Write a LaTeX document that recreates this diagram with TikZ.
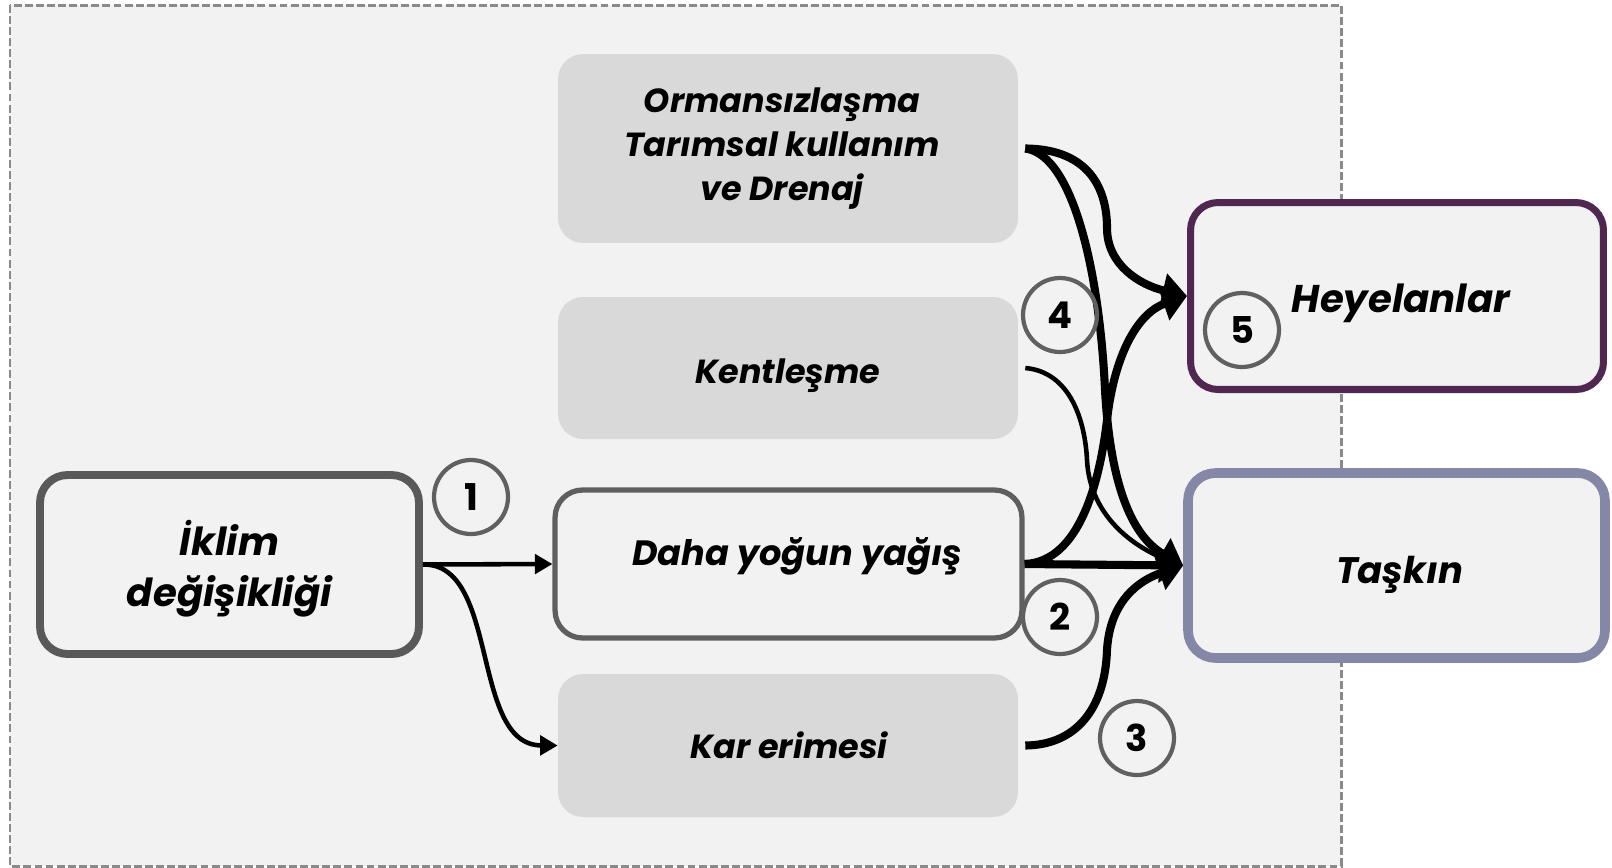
\documentclass[tikz,border=0pt]{standalone}
\usepackage{fontspec}
\setmainfont{Poppins}
\usetikzlibrary{arrows.meta}
\definecolor{bgc}{HTML}{F2F2F2}
\definecolor{gboxc}{HTML}{D9D9D9}
\definecolor{dashc}{HTML}{8A8A8A}
\definecolor{climc}{HTML}{595959}
\definecolor{dahac}{HTML}{5F5F5F}
\definecolor{heyc}{HTML}{4F2750}
\definecolor{tasc}{HTML}{8487A5}
\definecolor{numc}{HTML}{606060}
\tikzset{
  txt/.style 2 args={font=\fontsize{#1}{#2}\selectfont\bfseries\itshape, align=center, text=black, inner sep=0pt},
  gbox/.style={fill=gboxc, draw=none, rounded corners=0.5cm, minimum width=9.2cm},
  obox/.style={fill=bgc, rounded corners=0.55cm},
  num/.style={circle, draw=numc, line width=2.4pt, minimum size=1.48cm, inner sep=0pt,
    font=\fontsize{21}{25}\selectfont\bfseries},
  thin/.style={line width=2.6pt, -{Triangle[length=10pt,width=11pt]}},
  thick/.style={line width=4.6pt, -{Triangle[length=14pt,width=19pt]}},
}
\begin{document}
\begin{tikzpicture}[x=0.02cm,y=-0.02cm]
\useasboundingbox (0,0) rectangle (1612,867);
\draw[fill=bgc, draw=dashc, line width=1.7pt, dash pattern=on 4.5pt off 1.8pt] (10,5) rectangle (1341,866);

% boxes
\node[gbox, minimum height=3.78cm] (orman) at (788,148.5) {};
\node[gbox, minimum height=2.84cm] (kent) at (788,368) {};
\node[gbox, minimum height=2.86cm] (kar) at (788,745.5) {};
\node[obox, draw=dahac, line width=3pt, minimum width=9.34cm, minimum height=2.96cm] (daha) at (788.5,564) {};
\node[obox, draw=climc, line width=4.5pt, minimum width=7.58cm, minimum height=3.58cm] (clim) at (229.5,564.5) {};
\node[obox, draw=heyc, line width=4pt, minimum width=8.26cm, minimum height=3.74cm] (hey) at (1397,296) {};
\node[obox, draw=tasc, line width=5.5pt, minimum width=8.34cm, minimum height=3.7cm] (tas) at (1396.5,565.5) {};

% texts
\node[txt={19}{25}] (orman-t) at (782,148.5) {Ormansızlaşma\\Tarımsal kullanım\\ve Drenaj};
\node[txt={19}{23}] (kent-t) at (788,376) {Kentleşme};
\node[txt={19}{23}] (kar-t) at (789,745) {Kar erimesi};
\node[txt={20}{24}] (daha-t) at (797,556) {Daha yoğun yağış};
\node[txt={22}{29}] (clim-t) at (229.5,569) {İklim\\değişikliği};
\node[txt={22}{26}] (hey-t) at (1401,303) {Heyelanlar};
\node[txt={21}{25}] (tas-t) at (1399.5,575) {Taşkın};

% connectors from climate change
\draw[thin] (clim.east) -- (daha.west);
\draw[thin] (clim.east) .. controls (500,563) and (470,745) .. (kar.west);

% connectors to Heyelanlar
\draw[thick] ([xshift=0.14cm]orman.east) .. controls (1090,149) and (1107,190) .. (1107,228)
   .. controls (1107,265) and (1140,285) .. (hey.west);
\draw[thick] (daha.east) .. controls (1080,562) and (1100,480) .. (1107,420)
   .. controls (1115,350) and (1140,312) .. (hey.west);

% connectors to Taşkın
\draw[thick] ([xshift=0.14cm]orman.east) .. controls (1075,155) and (1100,280) .. (1105,390)
   .. controls (1110,480) and (1130,535) .. (tas.west);
\draw[thin] ([xshift=0.14cm]kent.east) .. controls (1070,372) and (1085,420) .. (1087,460)
   .. controls (1090,520) and (1140,550) .. (tas.west);
\draw[thick] (daha.east) -- (tas.west);
\draw[thick] ([xshift=0.14cm]kar.east) .. controls (1075,745) and (1105,710) .. (1107,650)
   .. controls (1110,600) and (1140,580) .. (tas.west);

\node[num] (n1) at (471,497) {1};
\node[num] (n2) at (1060,617) {2};
\node[num] (n3) at (1137,738) {3};
\node[num] (n4) at (1060,315) {4};
\node[num] (n5) at (1242,330) {5};
\end{tikzpicture}
\end{document}
